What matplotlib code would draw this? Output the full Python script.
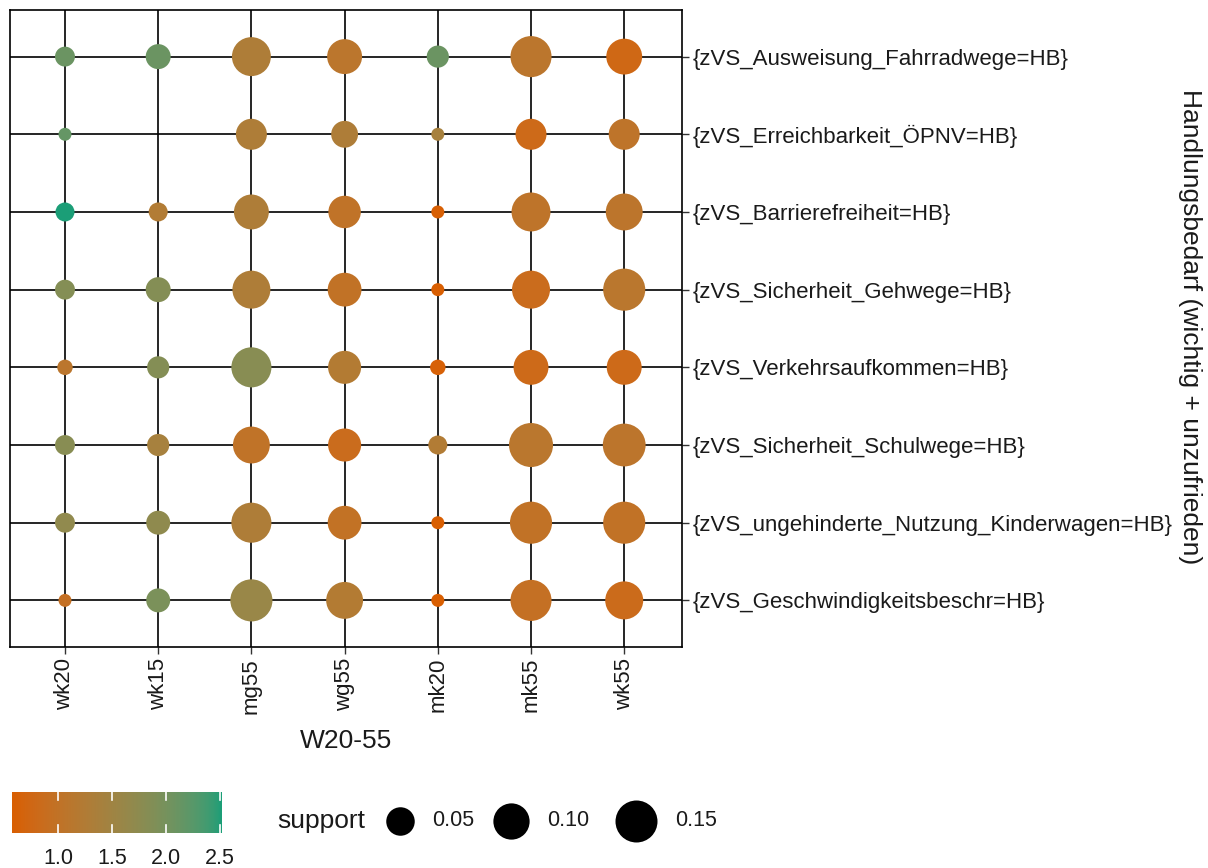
import numpy as np
import matplotlib
matplotlib.use("Agg")
import matplotlib.pyplot as plt
from matplotlib.colors import ListedColormap, Normalize

plt.rcParams['font.family'] = ['Liberation Sans', 'DejaVu Sans']

# ---------------- data ----------------
x_categories = ["wk20", "wk15", "mg55", "wg55", "mk20", "mk55", "wk55"]
y_categories = [
    "{zVS_Ausweisung_Fahrradwege=HB}",
    "{zVS_Erreichbarkeit_ÖPNV=HB}",
    "{zVS_Barrierefreiheit=HB}",
    "{zVS_Sicherheit_Gehwege=HB}",
    "{zVS_Verkehrsaufkommen=HB}",
    "{zVS_Sicherheit_Schulwege=HB}",
    "{zVS_ungehinderte_Nutzung_Kinderwagen=HB}",
    "{zVS_Geschwindigkeitsbeschr=HB}",
]
# support per row (top to bottom), columns as x_categories; nan = no rule
support_fahrradwege   = [0.018, 0.034, 0.122, 0.090, 0.024, 0.141, 0.097]
support_oepnv         = [0.010, np.nan, 0.064, 0.042, 0.010, 0.064, 0.064]
support_barriere      = [0.016, 0.016, 0.090, 0.073, 0.010, 0.122, 0.105]
support_gehwege       = [0.018, 0.034, 0.114, 0.082, 0.010, 0.114, 0.151]
support_verkehr       = [0.011, 0.024, 0.132, 0.077, 0.011, 0.090, 0.090]
support_schulwege     = [0.018, 0.024, 0.105, 0.077, 0.016, 0.170, 0.158]
support_kinderwagen   = [0.018, 0.030, 0.132, 0.082, 0.010, 0.151, 0.151]
support_geschwindigk  = [0.010, 0.030, 0.151, 0.105, 0.010, 0.141, 0.114]

lift_fahrradwege   = [2.10, 2.10, 1.30, 1.10, 2.10, 1.10, 0.75]
lift_oepnv         = [2.15, np.nan, 1.30, 1.30, 1.40, 0.80, 1.05]
lift_barriere      = [2.52, 1.25, 1.30, 1.02, 0.60, 1.05, 1.08]
lift_gehwege       = [1.85, 1.85, 1.30, 1.00, 0.58, 0.85, 1.12]
lift_verkehr       = [1.10, 1.85, 1.80, 1.22, 0.62, 0.80, 0.80]
lift_schulwege     = [1.80, 1.40, 1.02, 0.85, 1.25, 1.12, 1.08]
lift_kinderwagen   = [1.70, 1.72, 1.30, 0.98, 0.58, 1.00, 1.00]
lift_geschwindigk  = [0.95, 1.95, 1.60, 1.22, 0.58, 0.95, 0.82]

support_rows = [support_fahrradwege, support_oepnv, support_barriere, support_gehwege,
                support_verkehr, support_schulwege, support_kinderwagen, support_geschwindigk]
lift_rows = [lift_fahrradwege, lift_oepnv, lift_barriere, lift_gehwege,
             lift_verkehr, lift_schulwege, lift_kinderwagen, lift_geschwindigk]

legend_support = [0.05, 0.10, 0.15]
colorbar_ticks = [1.0, 1.5, 2.0, 2.5]
lift_limits = (0.575, 2.52)
support_limits = (0.010, 0.170)

x_label = "W20-55"
y_label = "Handlungsbedarf (wichtig + unzufrieden)"
size_title = "support"

# ---------------- scales ----------------
def srgb_to_lab(rgb):
    rgb = np.asarray(rgb, float)
    lin = np.where(rgb <= 0.04045, rgb / 12.92, ((rgb + 0.055) / 1.055) ** 2.4)
    M = np.array([[0.4124, 0.3576, 0.1805], [0.2126, 0.7152, 0.0722], [0.0193, 0.1192, 0.9505]])
    xyz = M @ lin / np.array([0.95047, 1.0, 1.08883])
    f = np.where(xyz > 0.008856, np.cbrt(xyz), 7.787 * xyz + 16 / 116)
    return np.array([116 * f[1] - 16, 500 * (f[0] - f[1]), 200 * (f[1] - f[2])])

def lab_to_srgb(lab):
    L, a, b = lab
    fy = (L + 16) / 116
    fx = fy + a / 500
    fz = fy - b / 200
    f = np.array([fx, fy, fz])
    xyz = np.where(f ** 3 > 0.008856, f ** 3, (f - 16 / 116) / 7.787) * np.array([0.95047, 1.0, 1.08883])
    Minv = np.array([[3.2406, -1.5372, -0.4986], [-0.9689, 1.8758, 0.0415], [0.0557, -0.2040, 1.0570]])
    lin = np.clip(Minv @ xyz, 0, 1)
    rgb = np.where(lin <= 0.0031308, 12.92 * lin, 1.055 * lin ** (1 / 2.4) - 0.055)
    return np.clip(rgb, 0, 1)

low = np.array([0xD9, 0x5F, 0x02]) / 255
high = np.array([0x1B, 0x9E, 0x77]) / 255
lab_lo, lab_hi = srgb_to_lab(low), srgb_to_lab(high)
cmap = ListedColormap([lab_to_srgb(lab_lo + (lab_hi - lab_lo) * t) for t in np.linspace(0, 1, 256)])
norm = Normalize(*lift_limits)

def diameter_px(s):
    s = np.asarray(s, float)
    lo, hi = support_limits
    return 13 + 31 * np.sqrt(np.clip((s - lo) / (hi - lo), 0, None))

def marker_area(s):
    return (diameter_px(s) * 0.72) ** 2

# ---------------- figure ----------------
W, H = 1208, 868
TXT = '#1a1a1a'
fig = plt.figure(figsize=(W / 100, H / 100), dpi=100)
ax = fig.add_axes([10 / W, (H - 647) / H, 672 / W, 637 / H])

n_rows = len(y_categories)
xs, ys, ss, cs = [], [], [], []
for i, (srow, lrow) in enumerate(zip(support_rows, lift_rows)):
    for j, (s, l) in enumerate(zip(srow, lrow)):
        if np.isnan(s):
            continue
        xs.append(j + 1)
        ys.append(n_rows - i)
        ss.append(s)
        cs.append(l)

ax.scatter(xs, ys, s=marker_area(ss), c=cs, cmap=cmap, norm=norm,
           linewidths=0, zorder=3)

ax.set_xlim(0.41, len(x_categories) + 0.62)
ax.set_ylim(0.4, n_rows + 0.6)
ax.set_xticks(range(1, len(x_categories) + 1))
ax.set_xticklabels(x_categories, rotation=90, fontsize=16, color=TXT)
ax.set_yticks(range(1, n_rows + 1))
ax.set_yticklabels(list(reversed(y_categories)), fontsize=16, color=TXT)
ax.yaxis.tick_right()
ax.yaxis.set_label_position('right')
ax.tick_params(axis='both', length=5, width=1.0, color='#333333', pad=3)
ax.grid(True, color='black', linewidth=1.2, zorder=1)
ax.set_axisbelow(True)
for sp in ax.spines.values():
    sp.set_color('black')
    sp.set_linewidth(1.2)

ax.set_xlabel(x_label, fontsize=19, color=TXT)
ax.xaxis.set_label_coords(0.5, (647 - 741) / 637)
ax.xaxis.label.set_va('center')
ax.set_ylabel(y_label, fontsize=19, color=TXT, rotation=270)
ax.yaxis.set_label_coords((1190 - 10) / 672, (647 - 327) / 637)
ax.yaxis.label.set_va('center')
ax.yaxis.label.set_ha('center')

# ---------------- colour bar legend ----------------
cax = fig.add_axes([12 / W, (H - 833) / H, 210 / W, 41 / H])
grad = np.linspace(lift_limits[0], lift_limits[1], 300).reshape(1, -1)
cax.imshow(grad, aspect='auto', cmap=cmap, norm=norm,
           extent=[lift_limits[0], lift_limits[1], 0, 1])
cax.set_xlim(*lift_limits)
cax.set_ylim(0, 1)
for t in colorbar_ticks:
    cax.plot([t, t], [0, 0.2], color='white', lw=1.2)
    cax.plot([t, t], [0.8, 1], color='white', lw=1.2)
cax.set_yticks([])
cax.set_xticks(colorbar_ticks)
cax.set_xticklabels([f"{t:.1f}" for t in colorbar_ticks], fontsize=15.5, color=TXT)
cax.tick_params(axis='x', length=0, pad=11)
for sp in cax.spines.values():
    sp.set_visible(False)

# ---------------- size legend ----------------
lax = fig.add_axes([0, 0, 1, 1], facecolor='none')
lax.set_xlim(0, W)
lax.set_ylim(H, 0)
lax.axis('off')
lax.text(365, 821, size_title, fontsize=19, ha='right', va='center', color=TXT)
key_x = [400, 511, 636]
for kx, sv in zip(key_x, legend_support):
    lax.scatter([kx], [821], s=marker_area([sv]), color='black', linewidths=0)
    lax.text(kx + diameter_px(sv) / 2 + 18, 821, f"{sv:.2f}", fontsize=15.5,
             ha='left', va='center', color=TXT)

fig.savefig("out.png", dpi=100)
